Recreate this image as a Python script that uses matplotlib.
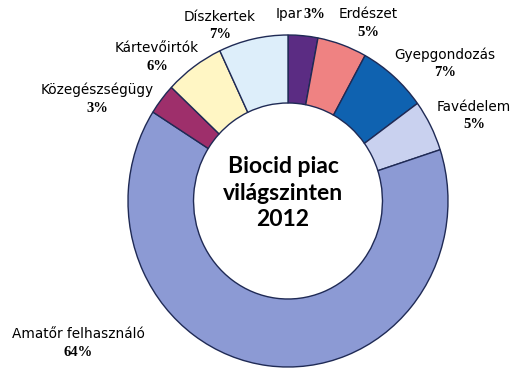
import matplotlib.pyplot as plt

labels = ['Ipar', 'Erdészet', 'Gyepgondozás', 'Favédelem',
          'Amatőr felhasználó', 'Közegészségügy', 'Kártevőirtók', 'Díszkertek']
shares = [3, 5, 7, 5, 64, 3, 6, 7]
colors = ['#5B2C83', '#EF8282', '#0F62B0', '#C9D1EF',
          '#8C9AD4', '#9E2F6B', '#FFF6C4', '#DDEEFA']

# label anchor points in pixel coords (top-left origin)
labelPos = {
    'Ipar': (300, 14),
    'Erdészet': (368, 14),
    'Gyepgondozás': (445, 55),
    'Favédelem': (474, 107),
    'Amatőr felhasználó': (78, 334),
    'Közegészségügy': (97, 90),
    'Kártevőirtók': (157, 48),
    'Díszkertek': (220, 17),
}

W, H = 514, 382
# the source image is slightly squashed horizontally
sx = 166 / 160
fig = plt.figure(figsize=(W / 100, H / 100), dpi=100)
ax = fig.add_axes([0, 0, 1, 1])

ax.pie(shares, colors=colors, startangle=90, counterclock=False,
       center=(288 * sx, H - 201), radius=166,
       wedgeprops=dict(width=68, edgecolor='#1F2A55', linewidth=1.0))
ax.set_aspect('auto')
ax.set_xlim(0, W * sx)
ax.set_ylim(0, H)
ax.axis('off')

nameFont = dict(fontsize=9.8, family='DejaVu Sans', ha='center', va='center')
pctFont = dict(fontsize=10.5, family='Liberation Serif', weight='bold',
               ha='center', va='center')

for name, pct in zip(labels, shares):
    x, y = labelPos[name]
    if name == 'Ipar':
        ax.text((x - 11) * sx, H - y, 'Ipar', **nameFont)
        ax.text((x + 14) * sx, H - y, f'{pct}%', **pctFont)
        continue
    ax.text(x * sx, H - y, name, **nameFont)
    ax.text(x * sx, H - y - 18, f'{pct}%', **pctFont)

ax.text(283 * sx, H - 193, 'Biocid piac\nvilágszinten\n2012', fontsize=16.5,
        family='Lato', weight='bold', ha='center', va='center', linespacing=1.3)

fig.savefig('out.png', dpi=100)
